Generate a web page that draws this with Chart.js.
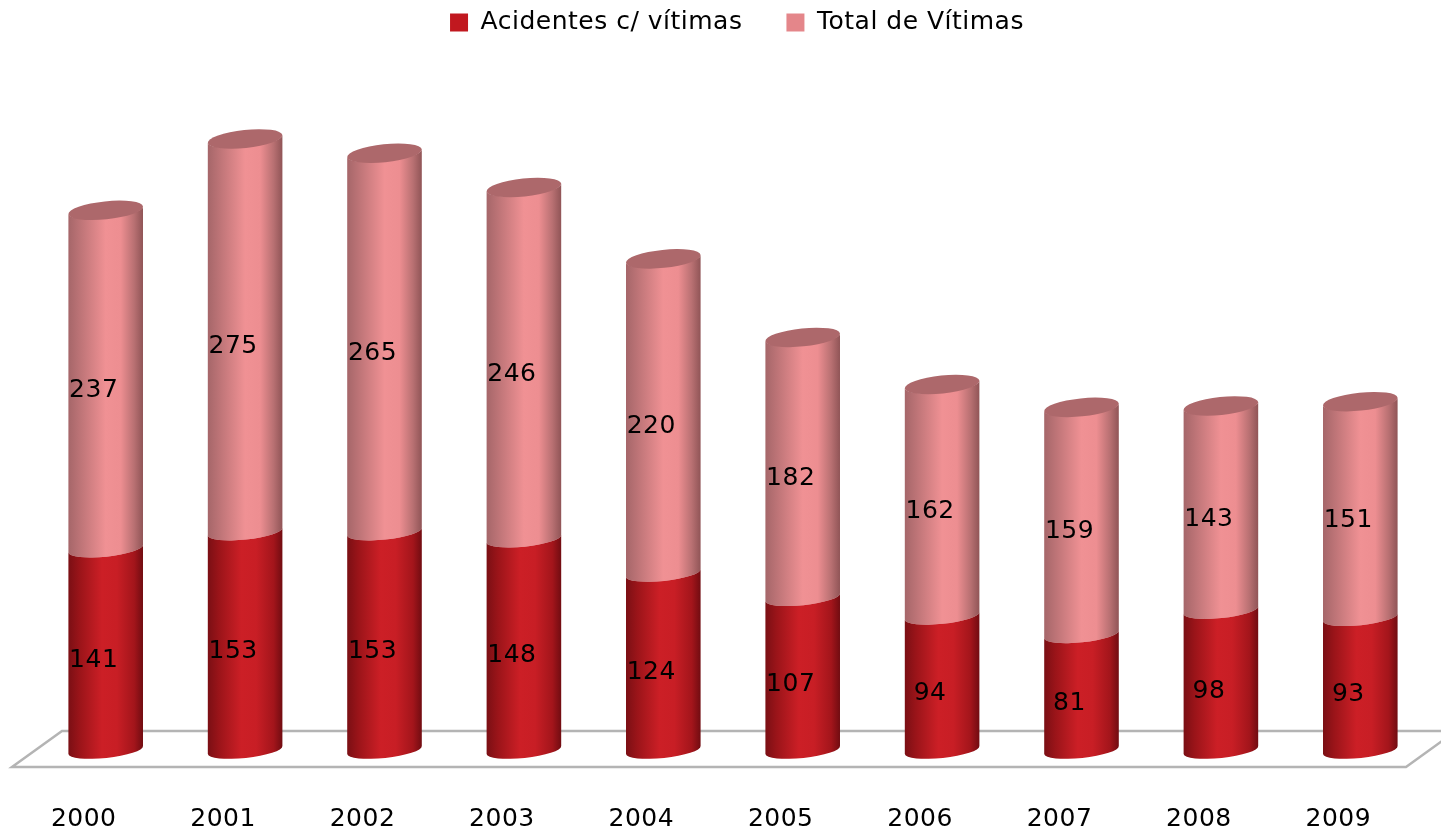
<!DOCTYPE html>
<html>
<head>
<meta charset="utf-8">
<style>
  html, body { margin: 0; padding: 0; background: #fff; }
  canvas { display: block; }
</style>
<script src="https://cdn.jsdelivr.net/npm/chart.js@4"></script>
</head>
<body>
<canvas id="chart" width="1441" height="830"></canvas>
<script>
// Values
const years = ["2000", "2001", "2002", "2003", "2004", "2005", "2006", "2007", "2008", "2009"];
const acidentes = [141, 153, 153, 148, 124, 107, 94, 81, 98, 93];
const vitimas = [237, 275, 265, 246, 220, 182, 162, 159, 143, 151];

const RED = "#c1181f";
const PINK = "#e4868a";
const FONT = { family: "'DejaVu Sans'", size: 25 };
const TILT = -6 * Math.PI / 180;
const RY = 8;

const redStops = [[0, "#7a0f14"], [0.15, "#9a1419"], [0.45, "#cc1f26"], [0.65, "#c81e25"], [0.88, "#a3151b"], [1, "#700c11"]];
const pinkStops = [[0, "#a56669"], [0.5, "#f09194"], [0.7, "#ed8e91"], [0.88, "#b87072"], [1, "#8f5456"]];

// Bars are drawn as tilted cylinders, geometry still comes from the scales
Chart.BarElement.prototype.draw = function (ctx) {
    const rx = this.width / 2;
    const isPink = this.options.backgroundColor === PINK;
    const grad = ctx.createLinearGradient(this.x - rx, 0, this.x + rx, 0);
    (isPink ? pinkStops : redStops).forEach(s => grad.addColorStop(s[0], s[1]));

    ctx.save();
    ctx.fillStyle = grad;
    ctx.beginPath();
    ctx.ellipse(this.x, this.y, rx, RY, TILT, Math.PI, 0, true);
    ctx.ellipse(this.x, this.base, rx, RY, TILT, 0, Math.PI, false);
    ctx.closePath();
    ctx.fill();
    if (isPink) {
        ctx.fillStyle = "#ad686b";
        ctx.beginPath();
        ctx.ellipse(this.x, this.y, rx, RY + 1, TILT, 0, Math.PI * 2);
        ctx.fill();
    }
    ctx.restore();
};

const spacing = {
    id: "spacing",
    beforeLayout(chart) { chart.ctx.letterSpacing = "0.5px"; },
    beforeDraw(chart) { chart.ctx.letterSpacing = "0.5px"; }
};

const legendShift = {
    id: "legendShift",
    afterLayout(chart) {
        chart.legend.left += 4;
        chart.legend.right += 4;
        chart.legend.top -= 34;
    }
};

const floor = {
    id: "floor",
    beforeDatasetsDraw(chart) {
        const { ctx, chartArea, scales } = chart;
        const y0 = scales.y.getPixelForValue(0);
        ctx.save();
        ctx.strokeStyle = "#b4b4b4";
        ctx.lineWidth = 2.5;
        ctx.beginPath();
        ctx.moveTo(chartArea.right + 26, y0 - 19);
        ctx.lineTo(chartArea.left + 26, y0 - 19);
        ctx.lineTo(chartArea.left - 24, y0 + 17);
        ctx.lineTo(chartArea.right - 24, y0 + 17);
        ctx.lineTo(chartArea.right + 26, y0 - 19);
        ctx.stroke();
        ctx.restore();
    }
};

const valueLabels = {
    id: "valueLabels",
    afterDatasetsDraw(chart) {
        const ctx = chart.ctx;
        ctx.save();
        ctx.fillStyle = "#000";
        ctx.font = "25px 'DejaVu Sans'";
        ctx.textAlign = "center";
        ctx.textBaseline = "middle";
        chart.data.datasets.forEach((ds, i) => {
            chart.getDatasetMeta(i).data.forEach((bar, j) => {
                ctx.fillText(ds.data[j], bar.x - 12, (bar.y + bar.base) / 2 + 11);
            });
        });
        ctx.restore();
    }
};

new Chart(document.getElementById("chart").getContext("2d"), {
    type: "bar",
    data: {
        labels: years,
        datasets: [
            { label: "Acidentes c/ vítimas", data: acidentes, backgroundColor: RED, clip: false },
            { label: "Total de Vítimas", data: vitimas, backgroundColor: PINK, clip: false }
        ]
    },
    options: {
        responsive: false,
        animation: false,
        devicePixelRatio: 1,
        barThickness: 75,
        layout: { padding: { left: 36, right: 11, top: 0, bottom: 0 } },
        plugins: {
            legend: {
                position: "top",
                labels: { boxWidth: 18, boxHeight: 18, padding: 44, color: "#000", font: FONT }
            },
            tooltip: { enabled: false }
        },
        scales: {
            x: {
                stacked: true,
                grid: { display: false },
                border: { display: false },
                afterFit(scale) { scale.height = 80; },
                ticks: { color: "#000", font: FONT, padding: 46, labelOffset: -22, maxRotation: 0, autoSkip: false }
            },
            y: { stacked: true, display: false, min: 0, max: 470 }
        }
    },
    plugins: [spacing, legendShift, floor, valueLabels]
});
</script>
</body>
</html>
